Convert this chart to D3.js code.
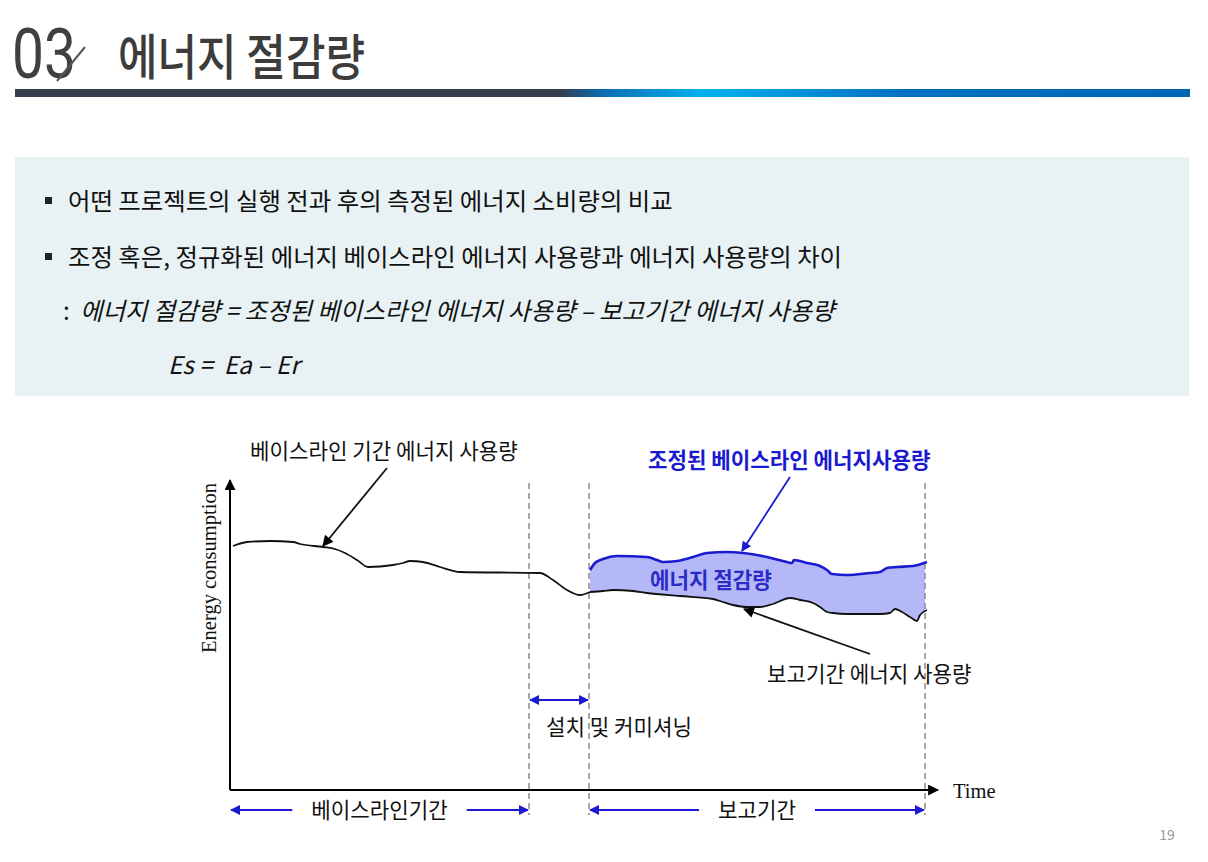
<!DOCTYPE html>
<html>
<head>
<meta charset="utf-8">
<script src="https://cdn.jsdelivr.net/npm/d3@7"></script>
<style>
  body { margin: 0; background: #fff; }
  svg { display: block; }
  text { white-space: pre; }
</style>
</head>
<body>
<script>
// --- données (temps, énergie) ---
const baselineCurve = [
  [0.3, 24.4], [1.7, 24.8], [4.0, 24.9], [6.3, 24.8], [7.0, 24.6], [9.3, 24.3],
  [10.5, 24.1], [11.5, 23.7], [12.7, 23.0], [13.8, 22.3], [16.3, 22.5], [17.3, 22.7],
  [18.0, 22.9], [19.3, 22.8], [21.0, 22.3], [23.0, 21.8], [31.0, 21.7], [32.3, 21.0],
  [33.7, 20.0], [35.0, 19.5], [36.0, 19.8]
];
const reportingCurve = [
  [36.0, 19.8], [37.3, 19.9], [38.3, 20.0], [40.3, 19.9], [41.7, 19.7], [45.0, 19.4],
  [48.3, 19.1], [49.0, 18.9], [50.3, 18.5], [51.7, 18.3], [53.0, 18.3], [54.3, 18.6],
  [56.0, 19.2], [57.0, 19.0], [58.3, 18.7], [59.0, 18.3], [59.7, 17.8], [60.3, 17.7],
  [61.7, 17.6], [65.0, 17.6], [66.0, 17.7], [66.5, 18.1], [67.2, 17.8], [68.0, 17.3],
  [68.7, 16.9], [69.0, 17.5], [69.7, 18.0]
];
const adjustedCurve = [
  [36.0, 22.0], [36.5, 22.7], [37.3, 23.1], [38.7, 23.4], [41.7, 23.3], [42.7, 23.0],
  [43.3, 22.8], [44.7, 22.9], [46.3, 23.3], [47.7, 23.7], [49.7, 23.8], [51.3, 23.7],
  [53.7, 23.3], [55.7, 22.8], [56.2, 22.7], [56.4, 23.0], [57.7, 22.7], [59.0, 22.4],
  [59.7, 22.0], [60.2, 21.6], [61.7, 21.5], [64.0, 21.7], [65.0, 21.8], [65.7, 22.2],
  [66.7, 22.3], [68.3, 22.4], [69.7, 22.8]
];
const periodBounds = [29.9, 35.9, 69.5]; // fin baseline, début rapport, fin rapport
const periodLabels = ["베이스라인기간", "보고기간"];
const commissioningLabel = "설치 및 커미셔닝";
const curveLabels = ["베이스라인 기간 에너지 사용량", "조정된 베이스라인 에너지사용량", "보고기간 에너지 사용량"];
const savingLabel = "에너지 절감량";
const axisTitles = ["Energy consumption", "Time"];

const titleNumber = "03";
const titleText = "에너지 절감량";
const bulletLines = [
  "어떤 프로젝트의 실행 전과 후의 측정된 에너지 소비량의 비교",
  "조정 혹은, 정규화된 에너지 베이스라인 에너지 사용량과 에너지 사용량의 차이"
];
const formulaLines = [":", "에너지 절감량 = 조정된 베이스라인 에너지 사용량 – 보고기간 에너지 사용량", "Es =  Ea – Er"];
const pageNumber = "19";

const KR = "'Noto Sans CJK KR', 'Noto Sans', sans-serif";
const SERIF = "'Liberation Serif', 'DejaVu Serif', serif";
const BLUE = "#1a1ad0";
const BODY_SIZE = 24.4;
const LABEL_SIZE = 21.2;

const svg = d3.select("body").append("svg")
  .attr("width", 1208).attr("height", 862);
const defs = svg.append("defs");

// dégradé de la barre du titre
const grad = defs.append("linearGradient").attr("id", "barGrad");
[[0, "#333f4f"], [0.465, "#333f4f"], [0.5, "#0a6db5"], [0.585, "#00b2ec"], [0.75, "#0072c2"], [1, "#0066b3"]]
  .forEach(s => grad.append("stop").attr("offset", s[0]).attr("stop-color", s[1]));

// têtes de flèches
function marker(id, color, w, h) {
  defs.append("marker").attr("id", id)
    .attr("viewBox", "0 0 10 10").attr("refX", 9).attr("refY", 5)
    .attr("markerUnits", "userSpaceOnUse")
    .attr("markerWidth", w).attr("markerHeight", h)
    .attr("orient", "auto-start-reverse")
    .append("path").attr("d", "M0,0 L10,5 L0,10 z").attr("fill", color);
}
marker("ahBlack", "#000", 13, 11);
marker("ahBlue", BLUE, 12, 10);

// --- titre ---
svg.append("text").attr("x", 12).attr("y", 78)
  .attr("font-family", "Roboto, sans-serif").attr("font-weight", 400)
  .attr("font-size", 70).attr("fill", "#404040")
  .attr("textLength", 64).attr("lengthAdjust", "spacingAndGlyphs")
  .text(titleNumber);
svg.append("line").attr("x1", 57).attr("y1", 81).attr("x2", 85).attr("y2", 47)
  .attr("stroke", "#555").attr("stroke-width", 2);
svg.append("text").attr("x", 118).attr("y", 75)
  .attr("font-family", KR).attr("font-weight", 500)
  .attr("font-size", 49).attr("fill", "#3c3c3c")
  .attr("textLength", 247).attr("lengthAdjust", "spacingAndGlyphs")
  .text(titleText);
svg.append("rect").attr("x", 15).attr("y", 89).attr("width", 1175).attr("height", 8)
  .attr("fill", "url(#barGrad)");

// --- encadré de texte ---
svg.append("rect").attr("x", 15).attr("y", 157).attr("width", 1174).attr("height", 239)
  .attr("fill", "#e8f2f4");
function bodyText(txt, px, py, italic) {
  return svg.append("text").attr("x", px).attr("y", py)
    .attr("font-family", KR).attr("font-size", BODY_SIZE).attr("font-weight", 400)
    .attr("font-style", italic ? "italic" : "normal").attr("fill", "#111").text(txt);
}
bulletLines.forEach((t, i) => {
  const cy = 201 + i * 56;
  svg.append("rect").attr("x", 45).attr("y", cy - 4).attr("width", 7).attr("height", 7).attr("fill", "#222");
  bodyText(t, 68, cy + 9);
});
bodyText(formulaLines[0], 63, 320);
bodyText(formulaLines[1], 80, 320, true);
bodyText(formulaLines[2], 168, 374, true);

// --- graphique ---
const x = d3.scaleLinear().domain([0, 70]).range([230, 930]);
const y = d3.scaleLinear().domain([0, 31]).range([790, 480]);
const chart = svg.append("g");

const line = d3.line().x(d => x(d[0])).y(d => y(d[1])).curve(d3.curveMonotoneX);

// zone d'économie (entre courbe ajustée et courbe de rapport)
defs.append("clipPath").attr("id", "reportClip").append("rect")
  .attr("x", x(periodBounds[1])).attr("y", y(31))
  .attr("width", x(periodBounds[2]) - x(periodBounds[1])).attr("height", y(0) - y(31));
const areaPts = adjustedCurve.concat(reportingCurve.slice().reverse());
chart.append("path")
  .attr("d", d3.line().x(d => x(d[0])).y(d => y(d[1]))(areaPts) + "Z")
  .attr("fill", "#b4b8f6").attr("clip-path", "url(#reportClip)");

// lignes verticales pointillées
periodBounds.forEach(b => {
  chart.append("line").attr("x1", x(b)).attr("x2", x(b))
    .attr("y1", y(30.7)).attr("y2", 815)
    .attr("stroke", "#8a8a8a").attr("stroke-width", 1.5).attr("stroke-dasharray", "6,4");
});

// axes
chart.append("line").attr("x1", x(0)).attr("y1", y(0)).attr("x2", x(0)).attr("y2", y(31))
  .attr("stroke", "#000").attr("stroke-width", 2).attr("marker-end", "url(#ahBlack)");
chart.append("line").attr("x1", x(0)).attr("y1", y(0)).attr("x2", x(70.8)).attr("y2", y(0))
  .attr("stroke", "#000").attr("stroke-width", 2).attr("marker-end", "url(#ahBlack)");
chart.append("text")
  .attr("transform", "translate(216," + y(22.2) + ") rotate(-90)")
  .attr("text-anchor", "middle").attr("font-family", SERIF).attr("font-size", 20.5).attr("fill", "#111")
  .text(axisTitles[0]);
chart.append("text").attr("x", x(72.3)).attr("y", y(0) + 8)
  .attr("font-family", SERIF).attr("font-size", 20.5).attr("fill", "#111")
  .text(axisTitles[1]);

// courbes
chart.append("path").attr("d", line(baselineCurve)).attr("fill", "none")
  .attr("stroke", "#111").attr("stroke-width", 1.8);
chart.append("path").attr("d", line(reportingCurve)).attr("fill", "none")
  .attr("stroke", "#111").attr("stroke-width", 1.8);
chart.append("path").attr("d", line(adjustedCurve)).attr("fill", "none")
  .attr("stroke", BLUE).attr("stroke-width", 2.6);

// annotations
function label(txt, px, py, color, weight, anchor) {
  return chart.append("text").attr("x", px).attr("y", py)
    .attr("font-family", KR).attr("font-size", LABEL_SIZE)
    .attr("font-weight", weight || 400).attr("fill", color)
    .attr("text-anchor", anchor || "start").text(txt);
}
function arrow(x1, y1, x2, y2, color, mk, w) {
  return chart.append("line").attr("x1", x1).attr("y1", y1).attr("x2", x2).attr("y2", y2)
    .attr("stroke", color).attr("stroke-width", w || 1.8).attr("marker-end", "url(#" + mk + ")");
}

label(curveLabels[0], 250, 459, "#111");
arrow(387, 468, x(9.3), y(24.3) - 1, "#111", "ahBlack");

label(curveLabels[1], 648, 468, BLUE, 700);
arrow(790, 477, x(51.2), y(23.7) - 2, BLUE, "ahBlue", 1.8);

label(savingLabel, 650, 588, "#2b2bc8", 700);

label(curveLabels[2], 767, 682, "#111");
arrow(870, 654, x(51.4), y(18.3) + 2, "#111", "ahBlack");

// installation / mise en service
chart.append("line")
  .attr("x1", x(periodBounds[0]) + 1).attr("x2", x(periodBounds[1]) - 1)
  .attr("y1", 700).attr("y2", 700)
  .attr("stroke", BLUE).attr("stroke-width", 2.2)
  .attr("marker-start", "url(#ahBlue)").attr("marker-end", "url(#ahBlue)");
label(commissioningLabel, 546, 735, "#111");

// périodes sous l'axe
const periods = [[0, periodBounds[0]], [periodBounds[1], periodBounds[2]]];
periods.forEach((p, i) => {
  const x0 = x(p[0]) + 1, x1 = x(p[1]) - 1, mid = (x0 + x1) / 2;
  const lab = label(periodLabels[i], mid, 818, "#111", 400, "middle");
  const half = lab.node().getComputedTextLength() / 2 + 19;
  arrow(mid - half, 810, x0, 810, BLUE, "ahBlue", 2);
  arrow(mid + half, 810, x1, 810, BLUE, "ahBlue", 2);
});

// numéro de page
svg.append("text").attr("x", 1167).attr("y", 840).attr("text-anchor", "middle")
  .attr("font-family", KR).attr("font-size", 14).attr("fill", "#999").text(pageNumber);
</script>
</body>
</html>
